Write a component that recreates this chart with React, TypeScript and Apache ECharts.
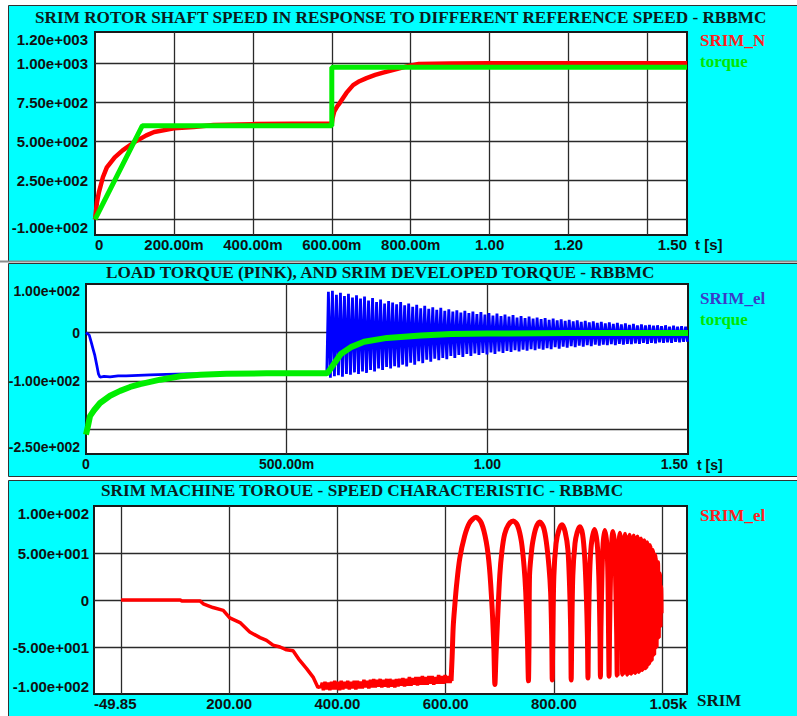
import React, { useEffect, useRef } from 'react';
import * as echarts from 'echarts';

// ---------- Panel 1: rotor shaft speed ----------
const p1Title = 'SRIM ROTOR SHAFT SPEED IN RESPONSE TO DIFFERENT REFERENCE SPEED - RBBMC';
const p1Time = [0, 0.005, 0.01, 0.02, 0.03, 0.05, 0.07, 0.1, 0.13, 0.15, 0.2, 0.25, 0.3, 0.4, 0.5, 0.6, 0.602, 0.606, 0.614, 0.62, 0.637, 0.654, 0.67, 0.688, 0.71, 0.73, 0.764, 0.79, 0.82, 0.9, 1.0, 1.2, 1.5];
const p1Speed = [0, 110, 175, 270, 333, 397, 442, 495, 538, 560, 583, 592, 605, 610, 612, 612, 650, 690, 725, 745, 810, 860, 885, 905, 925, 940, 962, 980, 995, 999, 1000, 1000, 1000];
const p1RefTime = [0, 0.12, 0.6, 0.6, 1.5];
const p1RefSpeed = [0, 600, 600, 975, 975];
const p1XName = 't [s]';
const p1XTicks = [0.2, 0.4, 0.6, 0.8, 1.0, 1.2, 1.4];
const p1XLabelValues = [0, 0.2, 0.4, 0.6, 0.8, 1.0, 1.2, 1.5];
const p1XLabels = ['0', '200.00m', '400.00m', '600.00m', '800.00m', '1.00', '1.20', '1.50'];
const p1YTicks = [0, 250, 500, 750, 1000];
const p1YLabelValues = [-100, 250, 500, 750, 1000, 1200];
const p1YLabels = ['-1.00e+002', '2.50e+002', '5.00e+002', '7.50e+002', '1.00e+003', '1.20e+003'];

// ---------- Panel 2: torques ----------
const p2Title = 'LOAD TORQUE (PINK), AND SRIM DEVELOPED TORQUE - RBBMC';
const p2ElTime = [0, 0.008, 0.014, 0.018, 0.022, 0.027, 0.031, 0.035, 0.045, 0.06, 0.08, 0.1, 0.13, 0.16, 0.2, 0.25, 0.3, 0.4, 0.5, 0.6];
const p2ElTorque = [0, -5, -23, -35, -47, -68, -85, -92, -90, -91, -89, -89, -88, -87, -86, -85, -85, -84, -84, -84];
const OSC_START = 0.604;
const OSC_STEP = 0.01;
const p2OscPeaks = [
  84, 86, 78, 82, 75, 80, 72, 77, 70, 74,
  66, 71, 63, 68, 60, 65, 62, 58, 63, 56,
  60, 53, 57, 50, 55, 49, 52, 47, 51, 45,
  48, 43, 46, 41, 45, 40, 43, 38, 42, 37,
  40, 35, 39, 34, 37, 33, 36, 31, 34, 30,
  33, 29, 31, 28, 30, 26, 29, 25, 27, 24,
  26, 23, 25, 22, 24, 21, 23, 20, 22, 19,
  21, 18, 20, 17, 19, 16, 18, 15, 17, 15,
  16, 14, 15, 13, 15, 12, 14, 12, 13, 12,
];
const p2OscTroughs = [
  -93, -90, -88, -91, -85, -87, -82, -85, -80, -83,
  -77, -80, -74, -77, -71, -74, -69, -72, -66, -70,
  -62, -66, -59, -63, -56, -60, -54, -57, -52, -55,
  -48, -52, -46, -50, -44, -48, -43, -46, -42, -45,
  -41, -44, -39, -42, -38, -40, -36, -39, -35, -37,
  -34, -36, -33, -35, -32, -34, -30, -33, -29, -31,
  -28, -30, -27, -29, -26, -28, -25, -27, -25, -26,
  -24, -26, -23, -25, -23, -24, -22, -23, -21, -23,
  -21, -22, -20, -21, -20, -21, -19, -20, -19, -19,
];
const p2LoadTime = [0, 0.005, 0.01, 0.02, 0.035, 0.06, 0.085, 0.11, 0.135, 0.185, 0.235, 0.285, 0.35, 0.45, 0.6, 0.605, 0.618, 0.635, 0.66, 0.693, 0.75, 0.835, 0.91, 1.0, 1.2, 1.5];
const p2LoadTorque = [-210, -192, -172, -160, -145, -130, -120, -112, -106, -97, -90, -87, -85, -84, -84, -80, -64, -44, -30, -19, -11, -6, -3, -2, -1, -1];
const p2XName = 't [s]';
const p2XTicks = [0.5, 1.0];
const p2XLabelValues = [0, 0.5, 1.0, 1.5];
const p2XLabels = ['0', '500.00m', '1.00', '1.50'];
const p2YTicks = [-200, -100, 0];
const p2YLabelValues = [-250, -100, 0, 100];
const p2YLabels = ['-2.50e+002', '-1.00e+002', '0', '1.00e+002'];

// ---------- Panel 3: torque-speed characteristic ----------
const p3Title = 'SRIM MACHINE TOROUE - SPEED CHARACTERISTIC - RBBMC';
const p3Start: number[][] = [
  [0, 0], [60, 0], [110, 0], [112, -1], [146, -1], [152, -4], [170, -8], [189, -11], [201, -19], [220, -24],
  [238, -34], [257, -40], [269, -43], [281, -48], [294, -50], [306, -53], [318, -54], [330, -64], [343, -73],
  [355, -82], [364, -93], [370, -92],
];
const p3Band: number[][] = [
  [372, -88], [374, -96], [377, -87], [380, -95], [383, -88], [386, -96], [389, -87], [392, -95], [395, -86],
  [398, -95], [401, -87], [404, -96], [407, -86], [410, -95], [413, -87], [416, -94], [419, -86], [422, -95],
  [425, -87], [428, -94], [431, -86], [434, -95], [437, -86], [440, -94], [443, -87], [446, -94], [449, -85],
  [452, -93], [455, -86], [458, -94], [461, -85], [464, -93], [467, -84], [470, -93], [473, -85], [476, -92],
  [479, -84], [482, -93], [485, -85], [488, -92], [491, -84], [494, -93], [497, -84], [500, -92], [503, -85],
  [506, -93], [509, -84], [512, -92], [515, -84], [518, -91], [521, -83], [524, -92], [527, -84], [530, -91],
  [533, -82], [536, -91], [539, -83], [542, -90], [545, -82], [548, -91], [551, -82], [554, -90], [557, -81],
  [560, -90], [563, -82], [566, -90], [569, -81], [572, -89], [575, -81], [578, -90], [581, -82], [584, -89],
  [587, -80], [590, -89], [593, -81], [596, -89], [599, -80], [602, -88], [605, -81], [608, -88], [610, -84],
];
const p3Arches: number[][] = [
  [610, -86], [612, -60], [614, -28], [617, -5], [620, 15], [626, 44], [635, 68], [644, 82], [656, 88], [666, 82],
  [675, 62], [681, 34], [686, -10], [689, -50], [691, -90],
  [693, -60], [696, -20], [700, 26], [704, 52], [709, 70], [716, 80], [725, 84], [733, 79], [740, 62], [745, 35],
  [748, 8], [751, -40], [753, -86],
  [754, -50], [755, 26], [758, 48], [761, 62], [767, 77], [774, 83], [781, 77], [786, 62], [791, 35], [794, 8],
  [796, -40], [797, -85],
  [798, -40], [800, 26], [804, 60], [809, 74], [815, 80], [821, 72], [826, 53], [829, 15], [831, -30], [832, -85],
  [833, -40], [835, 26], [839, 60], [843, 72], [848, 78], [853, 70], [857, 45], [860, 5], [862, -40], [863, -83],
  [864, -30], [866, 26], [869, 58], [875, 75], [880, 60], [883, 26], [885, -30], [886, -82],
  [887, -30], [889, 30], [891, 60], [894, 74], [898, 58], [900, 20], [901, -35], [902, -81],
  [903, -30], [905, 35], [907, 62], [909, 73], [912, 60], [914, 25], [916, -35], [917, -80],
  [918, 0], [920, 58], [922, 71], [924, 58], [926, 0], [927, -79],
  [928, 0], [930, 58], [931.5, 70], [933, 58], [935, 0], [936, -79],
  [937, 0], [938.5, 58], [940, 69], [941.5, 56], [943, 0], [943.5, -78],
  [944.5, 0], [946, 56], [947.5, 68], [949, 56], [950.5, 0], [951, -77],
  [952, 0], [953, 55], [954.5, 67], [956, 55], [957, 0], [957.5, -76],
  [958.5, 0], [959.5, 54], [961, 65], [962.5, 52], [963.5, 0], [964, -74],
  [965, 0], [966, 52], [967, 63], [968.5, 52], [969.5, 0], [970, -72],
  [970.5, 0], [971.5, 50], [972.5, 61], [973.5, 50], [974.5, 0], [975, -68],
  [975.5, 0], [976.5, 48], [977.5, 58], [978.5, 48], [979.5, 0], [980, -64],
  [980.5, 0], [981.5, 44], [982.5, 53], [983.5, 44], [984, 0], [984.5, -58],
  [985, 0], [986, 40], [987, 48], [988, 38], [988.5, 0], [989, -50],
  [989.5, 0], [990.5, 34], [991.5, 40], [992, 30], [992.5, 0], [993, -40],
  [993.5, 0], [994.2, 24], [995, 28], [995.5, 18], [996, 0], [996.3, -28],
  [996.7, 0], [997.2, 14], [997.6, 12], [998, -2], [998.1, -14], [998, -5],
];
const p3XName = 'SRIM';
const p3XMin = -49.85;
const p3XMax = 1046;
const p3XTicks = [0, 200, 400, 600, 800, 1000];
const p3XLabelValues = [-49.85, 200, 400, 600, 800, 1046];
const p3XLabels = ['-49.85', '200.00', '400.00', '600.00', '800.00', '1.05k'];
const p3YTicks = [-50, 0, 50];
const p3YLabelValues = [-100, -50, 0, 50, 100];
const p3YLabels = ['-1.00e+002', '-5.00e+001', '0', '5.00e+001', '1.00e+002'];

const CYAN = '#00ffff';
const SANS = 'Liberation Sans';
const SERIF = 'Liberation Serif';
const RED = '#ff0000';
const GREEN = '#00ee00';
const BLUE = '#0000ff';

function fmt(values: number[], labels: string[]) {
  return (v: number) => {
    const i = values.findIndex((x) => Math.abs(x - v) < 1e-6);
    return i >= 0 ? labels[i] : '';
  };
}

function zip(xs: number[], ys: number[]) {
  return xs.map((x, i) => [x, ys[i]]);
}

function buildOsc() {
  const out: number[][] = [];
  p2OscPeaks.forEach((p, k) => {
    const t = OSC_START + k * OSC_STEP;
    out.push([t, p]);
    out.push([t + OSC_STEP / 2, p2OscTroughs[k]]);
  });
  return out;
}

function xAxisCfg(gridIndex: number, min: number, max: number, ticks: number[], lv: number[], lt: string[], fontSize: number, margin: number, alignMin: string) {
  return {
    type: 'value', gridIndex, min, max,
    axisLine: { show: false },
    axisTick: { show: false, customValues: ticks },
    splitLine: { show: true, lineStyle: { color: '#2a2a2a', width: 1.3 } },
    axisLabel: {
      customValues: lv, formatter: fmt(lv, lt), fontFamily: SANS, fontWeight: 'bold', fontSize, color: '#111',
      margin, alignMinLabel: alignMin, alignMaxLabel: 'right', lineHeight: fontSize,
    },
  };
}

function yAxisCfg(gridIndex: number, min: number, max: number, ticks: number[], lv: number[], lt: string[], fontSize: number, margin: number) {
  return {
    type: 'value', gridIndex, min, max,
    axisLine: { show: false },
    axisTick: { show: false, customValues: ticks },
    splitLine: { show: true, lineStyle: { color: '#2a2a2a', width: 1.3 } },
    axisLabel: {
      customValues: lv, formatter: fmt(lv, lt), fontFamily: SANS, fontWeight: 'bold', fontSize, color: '#111',
      margin, verticalAlignMinLabel: 'bottom', verticalAlignMaxLabel: 'top',
    },
  };
}

function legendCfg(top: number, items: { name: string; color: string }[]) {
  return {
    left: 695, top, orient: 'vertical', icon: 'none', itemWidth: 0, itemHeight: 20, itemGap: 1, padding: 0,
    selectedMode: false,
    textStyle: { fontFamily: SERIF, fontWeight: 'bold', fontSize: 17, lineHeight: 20 },
    data: items.map((it) => ({ name: it.name, textStyle: { color: it.color } })),
  };
}

function axisNameText(text: string, x: number, y: number, font: string, color: string) {
  return { type: 'text', z: 10, x, y, style: { text, font, fill: color, align: 'left', verticalAlign: 'middle' } };
}

const titleStyle = { fontFamily: SERIF, fontWeight: 'bold', fontSize: 17.2, color: '#0b1c1c', lineHeight: 17 };

const option: any = {
  animation: false,
  backgroundColor: '#ffffff',
  graphic: [
    { type: 'rect', z: -10, shape: { x: 8.5, y: 5.5, width: 800, height: 256 }, style: { fill: CYAN, stroke: '#333', lineWidth: 1 } },
    { type: 'rect', z: -9, shape: { x: 0, y: 260.5, width: 797, height: 2 }, style: { fill: '#8c8c8c' } },
    { type: 'rect', z: -10, shape: { x: 8.5, y: 263.5, width: 800, height: 213 }, style: { fill: CYAN, stroke: '#333', lineWidth: 1 } },
    { type: 'rect', z: -10, shape: { x: 8.5, y: 480.5, width: 800, height: 240 }, style: { fill: CYAN, stroke: '#333', lineWidth: 1 } },
    axisNameText(p1XName, 695, 244, `bold 15px "${SANS}"`, '#111'),
    axisNameText(p2XName, 697, 465, `bold 14px "${SANS}"`, '#111'),
    axisNameText(p3XName, 697, 700, `bold 17px "${SERIF}"`, '#0b1c1c'),
  ],
  title: [
    { text: p1Title, left: 35, top: 9, padding: 0, textStyle: titleStyle },
    { text: p2Title, left: 106, top: 264, padding: 0, textStyle: titleStyle },
    { text: p3Title, left: 101, top: 482, padding: 0, textStyle: titleStyle },
  ],
  legend: [
    legendCfg(30, [{ name: 'SRIM_N', color: '#ff2020' }, { name: 'torque', color: '#00e600' }]),
    legendCfg(288, [{ name: 'SRIM_el', color: '#3b3bc8' }, { name: 'torque', color: '#00e600' }]),
    legendCfg(505, [{ name: 'SRIM_el', color: '#ff2020' }]),
  ],
  grid: [
    { left: 95, top: 32, width: 592, height: 203, show: true, backgroundColor: '#fff', borderColor: '#1a1a1a', borderWidth: 2 },
    { left: 86, top: 284, width: 602, height: 170, show: true, backgroundColor: '#fff', borderColor: '#1a1a1a', borderWidth: 2 },
    { left: 94, top: 506, width: 593, height: 188, show: true, backgroundColor: '#fff', borderColor: '#1a1a1a', borderWidth: 2 },
  ],
  xAxis: [
    xAxisCfg(0, 0, 1.5, p1XTicks, p1XLabelValues, p1XLabels, 15, 2, 'left'),
    xAxisCfg(1, 0, 1.5, p2XTicks, p2XLabelValues, p2XLabels, 14, 3, 'center'),
    xAxisCfg(2, p3XMin, p3XMax, p3XTicks, p3XLabelValues, p3XLabels, 15, 2, 'left'),
  ],
  yAxis: [
    yAxisCfg(0, -100, 1200, p1YTicks, p1YLabelValues, p1YLabels, 15, 7),
    yAxisCfg(1, -250, 100, p2YTicks, p2YLabelValues, p2YLabels, 14, 6),
    yAxisCfg(2, -100, 100, p3YTicks, p3YLabelValues, p3YLabels, 15, 5),
  ],
  series: [
    { type: 'line', name: 'SRIM_N', xAxisIndex: 0, yAxisIndex: 0, showSymbol: false, data: zip(p1Time, p1Speed), lineStyle: { color: RED, width: 4.5 }, itemStyle: { color: RED } },
    { type: 'line', name: 'torque', xAxisIndex: 0, yAxisIndex: 0, showSymbol: false, data: zip(p1RefTime, p1RefSpeed), lineStyle: { color: GREEN, width: 5 }, itemStyle: { color: GREEN } },
    { type: 'line', name: 'SRIM_el', xAxisIndex: 1, yAxisIndex: 1, showSymbol: false, data: zip(p2ElTime, p2ElTorque).concat(buildOsc()), lineStyle: { color: BLUE, width: 2.8 }, itemStyle: { color: BLUE } },
    { type: 'line', name: 'torque', xAxisIndex: 1, yAxisIndex: 1, showSymbol: false, data: zip(p2LoadTime, p2LoadTorque), lineStyle: { color: GREEN, width: 6 }, itemStyle: { color: GREEN } },
    { type: 'line', name: 'SRIM_el', xAxisIndex: 2, yAxisIndex: 2, showSymbol: false, data: p3Start.concat(p3Band), lineStyle: { color: RED, width: 3.5 }, itemStyle: { color: RED } },
    { type: 'line', name: 'SRIM_el', xAxisIndex: 2, yAxisIndex: 2, showSymbol: false, smooth: 0.3, data: p3Arches, lineStyle: { color: RED, width: 5 }, itemStyle: { color: RED } },
  ],
};

export default function App() {
  const ref = useRef<HTMLDivElement>(null);
  useEffect(() => {
    document.body.style.margin = '0';
    const chart = echarts.init(ref.current!, null, { renderer: 'svg' });
    chart.setOption(option);
    return () => chart.dispose();
  }, []);
  return <div ref={ref} style={{ position: 'absolute', left: 0, top: 0, width: 797, height: 716 }} />;
}
